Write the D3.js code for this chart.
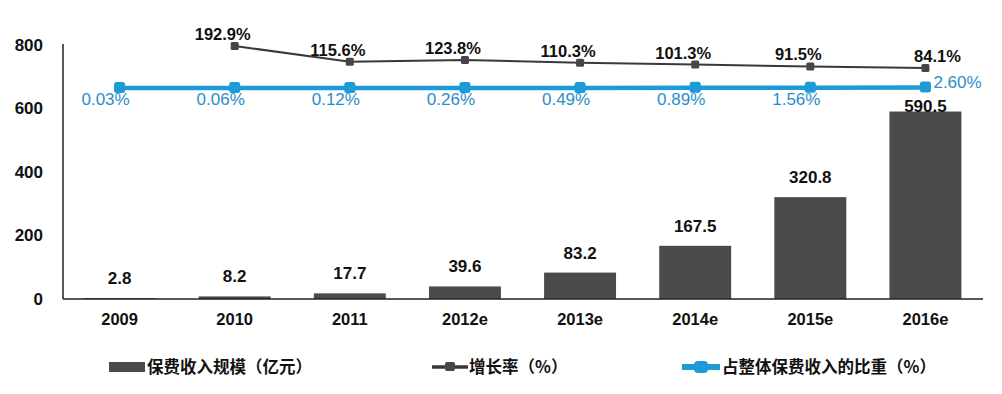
<!DOCTYPE html>
<html>
<head>
<meta charset="utf-8">
<script src="https://cdn.jsdelivr.net/npm/d3@7"></script>
<style>
  html, body { margin: 0; padding: 0; background: #ffffff; }
  svg { display: block; }
</style>
</head>
<body>
<div id="chart"></div>
<script>
const categories = ['2009', '2010', '2011', '2012e', '2013e', '2014e', '2015e', '2016e'];
const premium = [2.8, 8.2, 17.7, 39.6, 83.2, 167.5, 320.8, 590.5];
const growth = [null, 192.9, 115.6, 123.8, 110.3, 101.3, 91.5, 84.1];
const share = [0.03, 0.06, 0.12, 0.26, 0.49, 0.89, 1.56, 2.60];
const yTicks = [0, 200, 400, 600, 800];
const legendLabels = ['保费收入规模（亿元）', '增长率（%）', '占整体保费收入的比重（%）'];

const W = 1002, H = 394;
const barColor = '#4b4b4d';
const lineColor = '#3b383c';
const blue = '#1e9bd6';
const blueText = '#2a8ec8';
const numFont = '"Liberation Sans", Arial, sans-serif';
const cjkFont = '"Noto Sans CJK SC", "Noto Sans", sans-serif';

const svg = d3.select('#chart').append('svg')
  .attr('width', W).attr('height', H);
svg.append('rect').attr('width', W).attr('height', H).attr('fill', '#fff');

const x = d3.scaleBand().domain(categories)
  .range([62, 983]).paddingInner(0.375).paddingOuter(0.1875);
const y = d3.scaleLinear().domain([0, 800]).range([299, 45]);
const yGrowth = d3.scaleLinear().domain([0, 200]).range([85, 44.56]);
const yShare = d3.scaleLinear().domain([0, 200]).range([88, 47.5]);
const cx = c => x(c) + x.bandwidth() / 2;

// Y axis
const yAxis = svg.append('g').attr('transform', 'translate(63,0)')
  .call(d3.axisLeft(y).tickValues(yTicks).tickSize(0).tickSizeOuter(0).tickPadding(20));
yAxis.select('.domain').attr('stroke', '#222').attr('stroke-width', 1.5)
  .attr('d', `M0,${y(0)}V44`);
yAxis.selectAll('text').attr('font-family', numFont).attr('font-size', 17)
  .attr('font-weight', 'bold').attr('fill', '#111');

// Bars
svg.append('g').selectAll('rect').data(categories).join('rect')
  .attr('x', c => x(c)).attr('width', x.bandwidth())
  .attr('y', (c, i) => y(premium[i]))
  .attr('height', (c, i) => y(0) - y(premium[i]))
  .attr('fill', barColor);

// X axis
const xAxis = svg.append('g').attr('transform', `translate(0,${y(0)})`)
  .call(d3.axisBottom(x).tickSize(0).tickSizeOuter(0).tickPadding(14));
xAxis.select('.domain').attr('stroke', '#222').attr('stroke-width', 1.5)
  .attr('d', 'M63,0H983');
xAxis.selectAll('text').attr('font-family', numFont).attr('font-size', 16.5)
  .attr('font-weight', 'bold').attr('fill', '#111');

// Bar value labels
svg.append('g').selectAll('text').data(categories).join('text')
  .attr('x', c => cx(c))
  .attr('y', (c, i) => Math.max(y(premium[i]) - 14, 112))
  .attr('text-anchor', 'middle')
  .attr('font-family', numFont).attr('font-size', 17).attr('font-weight', 'bold')
  .attr('fill', '#111')
  .text((c, i) => premium[i]);

// Growth line
const gPts = categories.map((c, i) => ({ c, v: growth[i], i })).filter(d => d.v != null);
svg.append('path').datum(gPts)
  .attr('d', d3.line().x(d => cx(d.c)).y(d => yGrowth(d.v)))
  .attr('fill', 'none').attr('stroke', lineColor).attr('stroke-width', 2);
svg.append('g').selectAll('rect').data(gPts).join('rect')
  .attr('x', d => cx(d.c) - 4).attr('y', d => yGrowth(d.v) - 4)
  .attr('width', 8).attr('height', 8).attr('rx', 1.5)
  .attr('fill', '#48444c');
svg.append('g').selectAll('text').data(gPts).join('text')
  .attr('x', d => cx(d.c) + (d.i === categories.length - 1 ? 12 : -12))
  .attr('y', d => yGrowth(d.v) - 6)
  .attr('text-anchor', 'middle')
  .attr('font-family', numFont).attr('font-size', 16.5).attr('font-weight', 'bold')
  .attr('fill', '#111')
  .text(d => d3.format('.1f')(d.v) + '%');

// Share line
const sPts = categories.map((c, i) => ({ c, v: share[i], i }));
svg.append('path').datum(sPts)
  .attr('d', d3.line().x(d => cx(d.c)).y(d => yShare(d.v)))
  .attr('fill', 'none').attr('stroke', blue).attr('stroke-width', 4.5);
svg.append('g').selectAll('rect').data(sPts).join('rect')
  .attr('x', d => cx(d.c) - 5.5).attr('y', d => yShare(d.v) - 6)
  .attr('width', 11).attr('height', 11).attr('rx', 2.5)
  .attr('fill', blue);
svg.append('g').selectAll('text').data(sPts).join('text')
  .attr('x', d => d.i === categories.length - 1 ? cx(d.c) + 8 : cx(d.c) - 14)
  .attr('y', d => d.i === categories.length - 1 ? yShare(d.v) + 1 : yShare(d.v) + 17)
  .attr('text-anchor', d => d.i === categories.length - 1 ? 'start' : 'middle')
  .attr('font-family', numFont).attr('font-size', 17)
  .attr('fill', blueText)
  .text(d => d3.format('.2f')(d.v) + '%');

// Legend
const lg = svg.append('g');
const ly = 367;
lg.append('rect').attr('x', 109).attr('y', ly - 5).attr('width', 36).attr('height', 10).attr('fill', barColor);
lg.append('line').attr('x1', 432).attr('x2', 468).attr('y1', ly).attr('y2', ly)
  .attr('stroke', lineColor).attr('stroke-width', 3.5);
lg.append('rect').attr('x', 445).attr('y', ly - 5).attr('width', 10).attr('height', 9).attr('rx', 2).attr('fill', '#48444c');
lg.append('line').attr('x1', 682).attr('x2', 720).attr('y1', ly).attr('y2', ly)
  .attr('stroke', blue).attr('stroke-width', 6);
lg.append('rect').attr('x', 694).attr('y', ly - 6).attr('width', 14).attr('height', 12).attr('rx', 4).attr('fill', blue);
const legendX = [147, 469, 722];
lg.selectAll('text').data(legendLabels).join('text')
  .attr('x', (d, i) => legendX[i]).attr('y', ly).attr('dy', '0.36em')
  .attr('font-family', cjkFont).attr('font-size', 16.5).attr('font-weight', 'bold')
  .attr('fill', '#111')
  .text(d => d);
</script>
</body>
</html>
